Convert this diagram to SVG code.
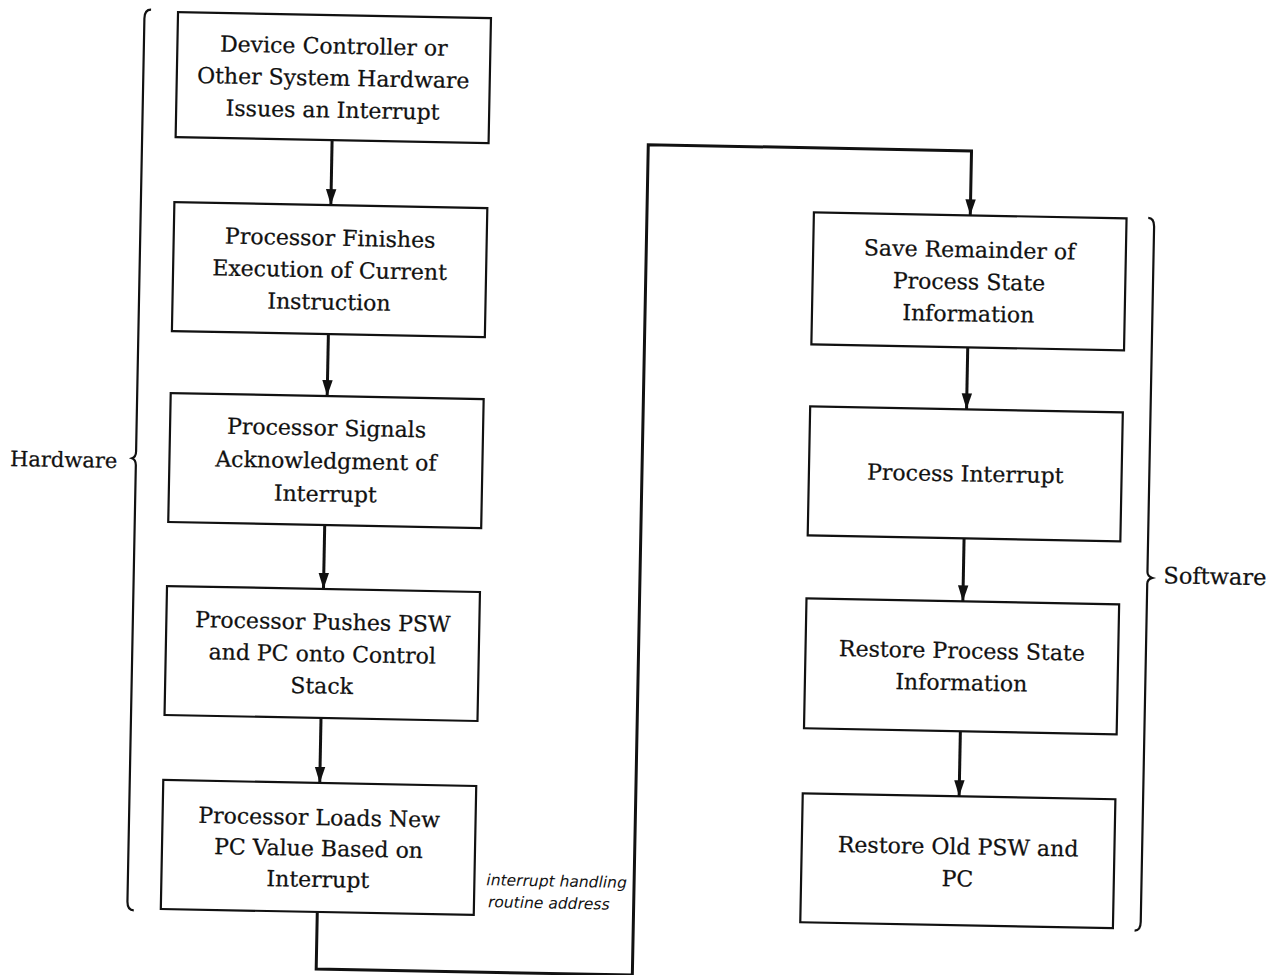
<svg xmlns="http://www.w3.org/2000/svg" width="1273" height="975" viewBox="0 0 1273 975">
  <style>
    .box { fill: #ffffff; stroke: #111111; stroke-width: 2.2; }
    .lbl { font-family: "DejaVu Serif", "Liberation Serif", serif; font-size: 22px; fill: #111111; stroke: #111111; stroke-width: 0.25; text-anchor: middle; }
    .side { font-family: "DejaVu Serif", "Liberation Serif", serif; fill: #111111; stroke: #111111; stroke-width: 0.25; }
    .wire { fill: none; stroke: #111111; stroke-width: 3; }
    .brace { fill: none; stroke: #111111; stroke-width: 2.2; }
    .note { font-family: "DejaVu Sans", "Liberation Sans", sans-serif; font-style: italic; font-size: 15.5px; fill: #111111; }
  </style>
  <defs>
    <marker id="arrow" markerUnits="userSpaceOnUse" markerWidth="17" markerHeight="12" refX="16" refY="6" orient="auto">
      <path d="M0,0.8 L16,6 L0,11.2 z" fill="#111111"/>
    </marker>
  </defs>
  <rect width="1273" height="975" fill="#ffffff"/>
  <g transform="rotate(1.1 636 487)">
    <!-- hardware steps -->
    <g id="hw-interrupt">
      <rect class="box" x="169" y="21" width="313" height="125"/>
      <text class="lbl" x="325.5" y="59.5">Device Controller or</text>
      <text class="lbl" x="325.5" y="91.5">Other System Hardware</text>
      <text class="lbl" x="325.5" y="123.5">Issues an Interrupt</text>
    </g>
    <g id="hw-finish">
      <rect class="box" x="169" y="211" width="313" height="129"/>
      <text class="lbl" x="325.5" y="251.5">Processor Finishes</text>
      <text class="lbl" x="325.5" y="283.5">Execution of Current</text>
      <text class="lbl" x="325.5" y="315.5">Instruction</text>
    </g>
    <g id="hw-ack">
      <rect class="box" x="169" y="402" width="313" height="129"/>
      <text class="lbl" x="325.5" y="441.5">Processor Signals</text>
      <text class="lbl" x="325.5" y="474.5">Acknowledgment of</text>
      <text class="lbl" x="325.5" y="507.5">Interrupt</text>
    </g>
    <g id="hw-push">
      <rect class="box" x="169" y="595" width="313" height="129"/>
      <text class="lbl" x="325.5" y="635.5">Processor Pushes PSW</text>
      <text class="lbl" x="325.5" y="667.5">and PC onto Control</text>
      <text class="lbl" x="325.5" y="699.5">Stack</text>
    </g>
    <g id="hw-load">
      <rect class="box" x="169" y="789" width="313" height="129"/>
      <text class="lbl" x="325.5" y="831">Processor Loads New</text>
      <text class="lbl" x="325.5" y="862">PC Value Based on</text>
      <text class="lbl" x="325.5" y="893">Interrupt</text>
    </g>

    <!-- software steps -->
    <g id="sw-save">
      <rect class="box" x="808.6" y="209" width="312.7" height="132"/>
      <text class="lbl" x="965" y="251">Save Remainder of</text>
      <text class="lbl" x="965" y="283">Process State</text>
      <text class="lbl" x="965" y="315">Information</text>
    </g>
    <g id="sw-process">
      <rect class="box" x="808.6" y="403" width="312.7" height="129"/>
      <text class="lbl" x="965" y="475">Process Interrupt</text>
    </g>
    <g id="sw-restore-state">
      <rect class="box" x="808.6" y="595" width="312.7" height="130"/>
      <text class="lbl" x="965" y="652">Restore Process State</text>
      <text class="lbl" x="965" y="684">Information</text>
    </g>
    <g id="sw-restore-psw">
      <rect class="box" x="808.6" y="790" width="312.7" height="129"/>
      <text class="lbl" x="965" y="848">Restore Old PSW and</text>
      <text class="lbl" x="965" y="880">PC</text>
    </g>

    <!-- flow connectors -->
    <g id="connectors">
      <line class="wire" x1="325.5" y1="146" x2="325.5" y2="211" marker-end="url(#arrow)"/>
      <line class="wire" x1="325.5" y1="340" x2="325.5" y2="402" marker-end="url(#arrow)"/>
      <line class="wire" x1="325.5" y1="531" x2="325.5" y2="595" marker-end="url(#arrow)"/>
      <line class="wire" x1="325.5" y1="724" x2="325.5" y2="789" marker-end="url(#arrow)"/>
      <path class="wire" d="M325.5,918 V975 H641.7 V144.5 H965 V209" marker-end="url(#arrow)"/>
      <line class="wire" x1="965" y1="341" x2="965" y2="403" marker-end="url(#arrow)"/>
      <line class="wire" x1="965" y1="532" x2="965" y2="595" marker-end="url(#arrow)"/>
      <line class="wire" x1="965" y1="725" x2="965" y2="790" marker-end="url(#arrow)"/>
    </g>

    <!-- group braces and their labels -->
    <g id="hardware-brace">
      <path class="brace" d="M142,19 Q135.5,19 135.5,28 V461 Q135.5,466.5 131.5,468 Q135.5,469.5 135.5,475 V911 Q135.5,920 142,920"/>
      <text class="side" x="117" y="478" font-size="21" text-anchor="end">Hardware</text>
    </g>
    <g id="software-brace">
      <path class="brace" d="M1143,208 Q1149,208 1149,217 V562 Q1149,566.5 1154,568 Q1149,569.5 1149,574 V912 Q1149,921 1143,921"/>
      <text class="side" x="1165" y="573" font-size="22.5">Software</text>
    </g>

    <!-- handwritten annotation -->
    <g id="annotation">
      <text class="note" x="494" y="888">interrupt handling</text>
      <text class="note" x="496" y="910">routine address</text>
    </g>
  </g>
</svg>
